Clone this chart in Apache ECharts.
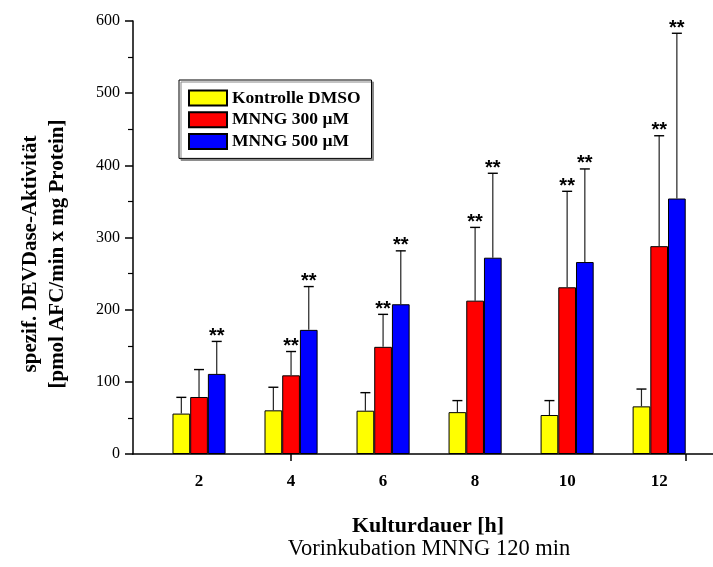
<!DOCTYPE html>
<html>
<head>
<meta charset="utf-8">
<script src="https://cdn.jsdelivr.net/npm/echarts@6/dist/echarts.min.js"></script>
<style>
  html, body { margin: 0; padding: 0; background: #fff; }
  #chart { width: 713px; height: 567px; }
</style>
</head>
<body>
<div id="chart"></div>
<script>
// Culture duration (h)
const hours = [2, 4, 6, 8, 10, 12];

// Group names
const seriesNames = ['Kontrolle DMSO', 'MNNG 300 µM', 'MNNG 500 µM'];

// Mean specific DEVDase activity [pmol AFC/min x mg protein]
const kontrolle = [56, 60.5, 60, 58, 54, 66];
const mnng300 = [79, 109, 148.5, 212.5, 231, 288];
const mnng500 = [111, 172, 207.5, 272, 266, 354];

// Upper standard deviation
const kontrolleSD = [22.5, 32, 25, 16, 20, 24];
const mnng300SD = [38, 33, 45, 101.5, 133, 153];
const mnng500SD = [45, 60, 74, 117, 129, 229];

// Significance marks (1 = **)
const kontrolleSig = [0, 0, 0, 0, 0, 0];
const mnng300Sig = [0, 1, 1, 1, 1, 1];
const mnng500Sig = [1, 1, 1, 1, 1, 1];

// Axis tick labels
const yTicks = [0, 100, 200, 300, 400, 500, 600];
const xTickLabels = [2, 4, 6, 8, 10, 12];

const colors = ['#ffff00', '#ff0000', '#0000ff'];
const means = [kontrolle, mnng300, mnng500];
const sds = [kontrolleSD, mnng300SD, mnng500SD];
const sigs = [kontrolleSig, mnng300Sig, mnng500Sig];

const BAR_W = 17.7;
const SERIF = '"Liberation Serif", "Times New Roman", serif';

const chart = echarts.init(document.getElementById('chart'), null, { renderer: 'canvas' });

const barSeries = seriesNames.map((name, k) => ({
  name,
  type: 'bar',
  barWidth: BAR_W,
  barGap: '0%',
  data: hours.map((h, i) => [h, means[k][i]]),
  itemStyle: { color: colors[k], borderColor: '#000', borderWidth: 1 },
  z: 2
}));

// Upper error whiskers with caps and significance stars
const errorSeries = seriesNames.map((name, k) => ({
  name: name + ' SD',
  type: 'custom',
  data: hours.map((h, i) => [h, means[k][i], sds[k][i], sigs[k][i]]),
  encode: { x: 0, y: 1 },
  z: 5,
  silent: true,
  renderItem: function (params, api) {
    const x = api.value(0), m = api.value(1), s = api.value(2), sig = api.value(3);
    const base = api.coord([x, m]);
    const top = api.coord([x, m + s]);
    const px = base[0] + (k - 1) * BAR_W;
    const children = [
      { type: 'line', shape: { x1: px, y1: base[1], x2: px, y2: top[1] },
        style: { stroke: '#222', lineWidth: 1.2 } },
      { type: 'line', shape: { x1: px - 5, y1: top[1], x2: px + 5, y2: top[1] },
        style: { stroke: '#000', lineWidth: 1.4 } }
    ];
    if (sig) {
      children.push({
        type: 'text', x: px, y: top[1] - 5,
        style: { text: '**', fontSize: 20, fontWeight: 'bold',
          fontFamily: '"Liberation Sans", Arial, sans-serif', fill: '#000',
          align: 'center', verticalAlign: 'middle' }
      });
    }
    return { type: 'group', children };
  }
}));

chart.setOption({
  animation: false,
  backgroundColor: '#fff',
  grid: { left: 133, right: 0, top: 21, bottom: 113, containLabel: false },
  legend: {
    data: seriesNames,
    orient: 'vertical',
    left: 179,
    top: 80,
    padding: [9, 11, 8, 9],
    itemWidth: 38,
    itemHeight: 15,
    itemGap: 3.7,
    icon: 'rect',
    borderColor: '#000',
    borderWidth: 1,
    backgroundColor: '#fff',
    shadowColor: '#888',
    shadowBlur: 0,
    shadowOffsetX: 2,
    shadowOffsetY: 2,
    textStyle: { fontFamily: SERIF, fontSize: 17.5, fontWeight: 'bold', color: '#000', lineHeight: 15 }
  },
  xAxis: {
    type: 'value',
    min: 0.565,
    max: 13.17,
    splitLine: { show: false },
    axisLine: { show: true, lineStyle: { color: '#000', width: 1.5 } },
    axisTick: { show: true, customValues: [4, 12.57], length: 7, lineStyle: { color: '#000', width: 1.5 } },
    axisLabel: {
      customValues: xTickLabels,
      margin: 19,
      fontFamily: SERIF, fontSize: 17, fontWeight: 'bold', color: '#000'
    }
  },
  yAxis: {
    type: 'value',
    min: yTicks[0],
    max: yTicks[yTicks.length - 1],
    interval: 100,
    splitLine: { show: false },
    axisLine: { show: true, lineStyle: { color: '#000', width: 1.5 } },
    axisTick: { show: true, inside: false, length: 8, lineStyle: { color: '#000', width: 1.5 } },
    minorTick: { show: true, splitNumber: 2, length: 5, lineStyle: { color: '#000', width: 1.2 } },
    axisLabel: { margin: 13, fontFamily: SERIF, fontSize: 16, color: '#000' }
  },
  graphic: [
    {
      type: 'text', x: 44.5, y: 254, rotation: Math.PI / 2,
      style: {
        text: 'spezif. DEVDase-Aktivität\n[pmol AFC/min x mg Protein]',
        fontFamily: SERIF, fontSize: 21, fontWeight: 'bold', lineHeight: 27,
        fill: '#000', align: 'center', verticalAlign: 'middle'
      }
    },
    {
      type: 'text', x: 428, y: 526,
      style: {
        text: 'Kulturdauer [h]',
        fontFamily: SERIF, fontSize: 22, fontWeight: 'bold',
        fill: '#000', align: 'center', verticalAlign: 'middle'
      }
    },
    {
      type: 'text', x: 429, y: 549,
      style: {
        text: 'Vorinkubation MNNG 120 min',
        fontFamily: SERIF, fontSize: 22.5,
        fill: '#000', align: 'center', verticalAlign: 'middle'
      }
    }
  ],
  series: barSeries.concat(errorSeries)
});
</script>
</body>
</html>
